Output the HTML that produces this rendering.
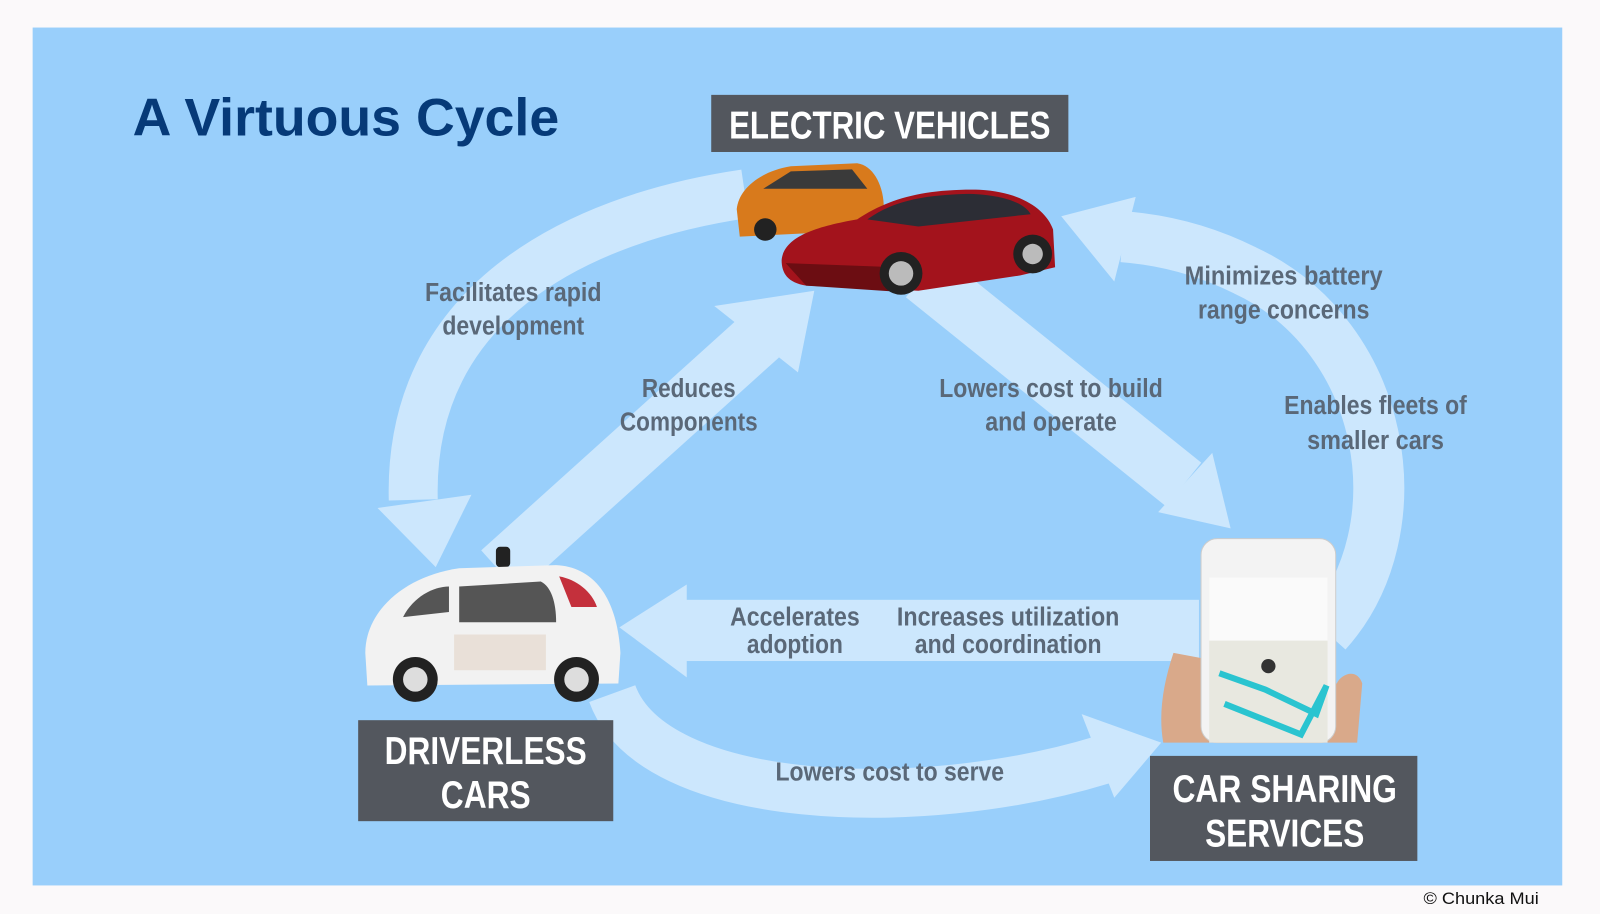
<!DOCTYPE html>
<html><head><meta charset="utf-8"><style>
html,body{margin:0;padding:0;background:#fbf9fa;}
svg{display:block}
.lb{font-family:"Liberation Sans Narrow","Liberation Sans",sans-serif;font-weight:bold;fill:#5a6878;font-size:25px;text-anchor:middle}
.bx{font-family:"Liberation Sans Narrow","Liberation Sans",sans-serif;font-weight:bold;fill:#fff;text-anchor:middle}
</style></head><body>
<svg width="1600" height="914" viewBox="0 0 1568 896" preserveAspectRatio="none" xmlns="http://www.w3.org/2000/svg">
<rect x="0" y="0" width="1568" height="896" fill="#fbf9fa"/>
<rect x="32" y="27" width="1499" height="841" fill="#99cffb"/>
<text x="130" y="133" font-family="Liberation Sans,sans-serif" font-weight="bold" font-size="52" fill="#063a78" textLength="418" lengthAdjust="spacingAndGlyphs">A Virtuous Cycle</text>

<g fill="#cce7fd" stroke="none">
 <path d="M730,190 C560,215 400,300 405,490" fill="none" stroke="#cce7fd" stroke-width="48"/>
 <polygon points="370,498 462,485 427,556"/>
 <path d="M490,560 L745,330" fill="none" stroke="#cce7fd" stroke-width="55"/>
 <polygon points="700,300 798,285 782,365"/>
 <path d="M905,270 L1160,475" fill="none" stroke="#cce7fd" stroke-width="55"/>
 <polygon points="1135,502 1188,444 1206,518"/>
 <path d="M1300,620 C1390,520 1360,330 1220,265 C1180,245 1140,235 1100,232" fill="none" stroke="#cce7fd" stroke-width="50"/>
 <polygon points="1113,193 1092,276 1040,212"/>
 <rect x="670" y="588" width="505" height="60"/>
 <polygon points="673,573 673,664 607,615"/>
 <path d="M600,680 C640,790 900,800 1080,745" fill="none" stroke="#cce7fd" stroke-width="48"/>
 <polygon points="1060,700 1092,782 1138,728"/>
</g>

<g>
 <path d="M722,205 C724,185 745,168 775,163 L840,160 C855,162 865,180 866,200 L866,225 L725,232 Z" fill="#d87a1c"/>
 <path d="M748,185 L775,168 L835,166 L850,185 Z" fill="#3a3a3a"/>
 <circle cx="750" cy="225" r="11" fill="#222"/><circle cx="848" cy="222" r="10" fill="#222"/>
</g>
<g>
 <path d="M766,255 C768,232 800,222 840,215 C870,195 905,185 960,186 C1000,188 1025,205 1032,225 L1034,262 L1000,270 L900,285 L790,280 C772,277 766,268 766,255 Z" fill="#a3131c"/>
 <path d="M850,215 C875,197 905,191 950,190 C985,191 1005,200 1010,210 L900,222 Z" fill="#2c2d35"/>
 <path d="M770,258 L880,262 L880,286 L790,280 Z" fill="#6c0d12"/>
 <circle cx="883" cy="268" r="21" fill="#222"/><circle cx="883" cy="268" r="12" fill="#bbb"/>
 <circle cx="1012" cy="249" r="19" fill="#222"/><circle cx="1012" cy="249" r="10" fill="#bbb"/>
</g>
<g>
 <rect x="486" y="536" width="14" height="20" rx="4" fill="#222"/>
 <path d="M358,640 C358,600 395,565 450,557 L545,554 C585,556 605,590 608,640 L606,670 L360,672 Z" fill="#f2f2f2"/>
 <path d="M450,575 L530,570 C540,575 545,590 545,610 L450,610 Z" fill="#555"/>
 <path d="M395,605 C405,585 425,575 440,575 L440,600 Z" fill="#555"/>
 <path d="M548,565 C565,568 580,580 585,595 L560,595 Z" fill="#c4303c"/>
 <rect x="445" y="622" width="90" height="35" fill="#e9e0d8"/>
 <circle cx="407" cy="666" r="22" fill="#222"/><circle cx="407" cy="666" r="12" fill="#ddd"/>
 <circle cx="565" cy="666" r="22" fill="#222"/><circle cx="565" cy="666" r="12" fill="#ddd"/>
</g>
<g>
 <path d="M1150,640 C1140,670 1135,700 1140,728 L1330,728 L1335,670 C1330,655 1315,660 1310,670 Z" fill="#d9a98a"/>
 <rect x="1177" y="528" width="132" height="200" rx="16" fill="#f3f3f3" stroke="#ccc"/>
 <rect x="1185" y="566" width="116" height="162" fill="#e8e8e0"/>
 <rect x="1185" y="566" width="116" height="62" fill="#fafafa"/>
 <path d="M1195,660 L1240,676 L1290,700 L1300,672 L1275,720 L1200,690" fill="none" stroke="#2ac4d0" stroke-width="6"/>
 <circle cx="1243" cy="653" r="7" fill="#333"/>
</g>

<rect x="697" y="93" width="350" height="56" fill="#53575e"/>
<text class="bx" x="872" y="136" font-size="38" textLength="315" lengthAdjust="spacingAndGlyphs">ELECTRIC VEHICLES</text>
<rect x="351" y="706" width="250" height="99" fill="#53575e"/>
<text class="bx" x="476" y="749" font-size="38" textLength="198" lengthAdjust="spacingAndGlyphs">DRIVERLESS</text>
<text class="bx" x="476" y="792" font-size="38" textLength="88" lengthAdjust="spacingAndGlyphs">CARS</text>
<rect x="1127" y="741" width="262" height="103" fill="#53575e"/>
<text class="bx" x="1259" y="786" font-size="38" textLength="220" lengthAdjust="spacingAndGlyphs">CAR SHARING</text>
<text class="bx" x="1259" y="830" font-size="38" textLength="156" lengthAdjust="spacingAndGlyphs">SERVICES</text>

<g lengthAdjust="spacingAndGlyphs">
<text class="lb" x="503" y="295" textLength="173" lengthAdjust="spacingAndGlyphs">Facilitates rapid</text>
<text class="lb" x="503" y="328" textLength="139" lengthAdjust="spacingAndGlyphs">development</text>
<text class="lb" x="675" y="389" textLength="92" lengthAdjust="spacingAndGlyphs">Reduces</text>
<text class="lb" x="675" y="422" textLength="135" lengthAdjust="spacingAndGlyphs">Components</text>
<text class="lb" x="1030" y="389" textLength="219" lengthAdjust="spacingAndGlyphs">Lowers cost to build</text>
<text class="lb" x="1030" y="422" textLength="129" lengthAdjust="spacingAndGlyphs">and operate</text>
<text class="lb" x="1258" y="279" textLength="194" lengthAdjust="spacingAndGlyphs">Minimizes battery</text>
<text class="lb" x="1258" y="312" textLength="168" lengthAdjust="spacingAndGlyphs">range concerns</text>
<text class="lb" x="1348" y="406" textLength="179" lengthAdjust="spacingAndGlyphs">Enables fleets of</text>
<text class="lb" x="1348" y="440" textLength="134" lengthAdjust="spacingAndGlyphs">smaller cars</text>
<text class="lb" x="779" y="613" textLength="127" lengthAdjust="spacingAndGlyphs">Accelerates</text>
<text class="lb" x="779" y="640" textLength="94" lengthAdjust="spacingAndGlyphs">adoption</text>
<text class="lb" x="988" y="613" textLength="218" lengthAdjust="spacingAndGlyphs">Increases utilization</text>
<text class="lb" x="988" y="640" textLength="183" lengthAdjust="spacingAndGlyphs">and coordination</text>
<text class="lb" x="872" y="765" textLength="224" lengthAdjust="spacingAndGlyphs">Lowers cost to serve</text>
</g>
<text x="1395" y="886" font-family="Liberation Sans,sans-serif" font-size="16" fill="#111" textLength="113" lengthAdjust="spacingAndGlyphs">© Chunka Mui</text>
</svg>
</body></html>
